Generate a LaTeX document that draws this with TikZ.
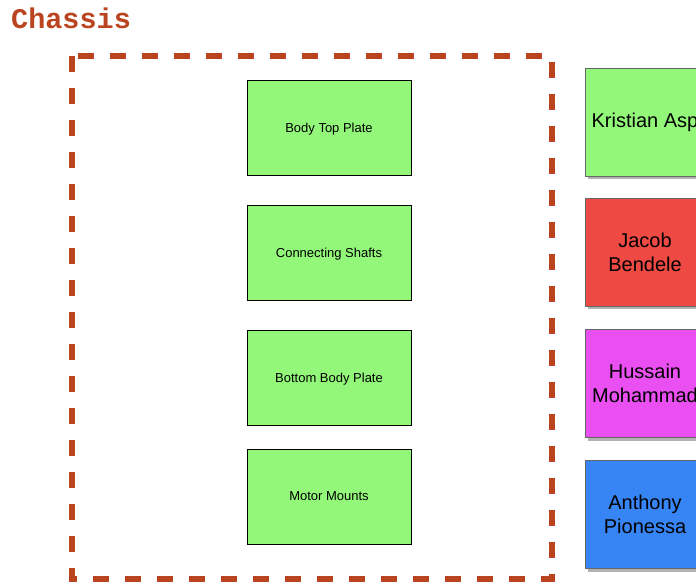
\documentclass[tikz,border=0pt]{standalone}
\usepackage{fontspec}
\setmainfont{Liberation Sans}
\newfontfamily\titlefont{Liberation Mono}
\begin{document}
\begin{tikzpicture}[x=1pt,y=-1pt,
  part/.style={draw=black, line width=0.8pt, fill=partgreen, minimum width=164pt, minimum height=95pt,
    inner sep=0pt, text depth=0pt, font=\fontsize{13}{15}\selectfont},
  member/.style={draw=gray!80!black, line width=0.8pt, minimum width=120pt, minimum height=108pt,
    inner sep=0pt, align=center, font=\fontsize{20}{24}\selectfont,
    preaction={fill=black!30, transform canvas={xshift=3pt, yshift=-3pt}}},
  groupframe/.style={draw=framered, line width=6pt, dash pattern=on 16pt off 16pt}]
\definecolor{partgreen}{HTML}{93F87A}
\definecolor{framered}{HTML}{BB4420}
\definecolor{memred}{HTML}{EE4A43}
\definecolor{memmagenta}{HTML}{E94FF1}
\definecolor{memblue}{HTML}{3784F4}
\useasboundingbox (0,0) rectangle (696,584);
\clip (0,0) rectangle (696,584);

% group title
\node[anchor=base west, inner sep=0pt, text=framered, font=\titlefont\bfseries\fontsize{28.5}{30}\selectfont] (title) at (11,28) {Chassis};

% dashed group frame
\draw[groupframe] (72,56) rectangle (552,579);

% parts
\node[part] (top) at (329,127.5) {Body Top Plate};
\node[part] (shafts) at (329,252.5) {Connecting Shafts};
\node[part] (bottom) at (329,377.5) {Bottom Body Plate};
\node[part] (mounts) at (329,496.5) {Motor Mounts};

% team members
\node[member, fill=partgreen] (kristian) at (645,122) {Kristian Asp};
\node[member, fill=memred] (jacob) at (645,252) {Jacob\\Bendele};
\node[member, fill=memmagenta] (hussain) at (645,383.5) {Hussain\\Mohammad};
\node[member, fill=memblue] (anthony) at (645,514.5) {Anthony\\Pionessa};
\end{tikzpicture}
\end{document}
